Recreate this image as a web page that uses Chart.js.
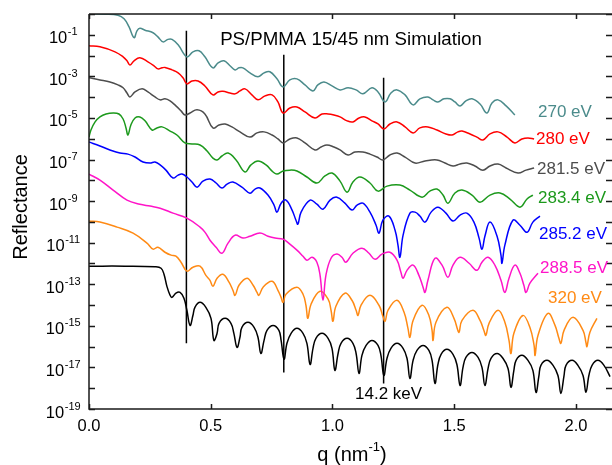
<!DOCTYPE html>
<html>
<head>
<meta charset="utf-8">
<script src="https://cdn.jsdelivr.net/npm/chart.js@4/dist/chart.umd.min.js"></script>
<style>
  body { margin: 0; background: #fff; }
  #chart { display: block; }
</style>
</head>
<body>
<canvas id="chart" width="612" height="465"></canvas>
<script>
// each curve: [q (nm^-1), log10 reflectance]
const r270 = [[0,0],[0.066,-0.01],[0.119,-0.06],[0.144,-0.23],[0.164,-0.61],[0.185,-1.14],[0.197,-0.81],[0.209,-0.69],[0.230,-0.78],[0.263,-0.90],[0.283,-1.10],[0.304,-1.34],[0.324,-1.22],[0.341,-1.22],[0.366,-1.48],[0.402,-2.06],[0.427,-1.82],[0.452,-1.77],[0.476,-2.06],[0.509,-2.59],[0.530,-2.35],[0.554,-2.25],[0.579,-2.49],[0.600,-2.69],[0.616,-2.59],[0.632,-2.59],[0.661,-2.83],[0.694,-3.02],[0.719,-2.83],[0.743,-2.78],[0.772,-3.12],[0.797,-3.51],[0.825,-3.17],[0.854,-3.12],[0.887,-3.41],[0.920,-3.70],[0.940,-3.41],[0.965,-3.27],[0.998,-3.46],[1.031,-3.65],[1.064,-3.55],[1.097,-3.65],[1.125,-3.84],[1.162,-3.55],[1.187,-3.75],[1.216,-4.23],[1.240,-3.80],[1.265,-3.65],[1.298,-3.89],[1.331,-4.37],[1.359,-4.08],[1.392,-3.99],[1.413,-4.13],[1.433,-4.23],[1.458,-4.08],[1.483,-4.08],[1.503,-4.23],[1.524,-4.42],[1.548,-4.18],[1.573,-4.08],[1.606,-4.33],[1.634,-4.76],[1.655,-4.28],[1.680,-4.13],[1.713,-4.42],[1.749,-4.86]];

const r280 = [[0,-1.53],[0.045,-1.58],[0.107,-1.82],[0.140,-2.06],[0.156,-2.25],[0.168,-2.45],[0.185,-2.25],[0.209,-2.11],[0.242,-2.30],[0.267,-2.49],[0.283,-2.64],[0.300,-2.59],[0.312,-2.57],[0.341,-2.69],[0.366,-2.83],[0.386,-3.07],[0.402,-3.36],[0.423,-3.22],[0.448,-3.22],[0.476,-3.46],[0.509,-3.89],[0.530,-3.75],[0.550,-3.72],[0.579,-3.80],[0.600,-3.84],[0.620,-3.70],[0.641,-3.60],[0.669,-3.89],[0.694,-4.13],[0.723,-3.94],[0.752,-3.89],[0.776,-4.23],[0.797,-4.76],[0.825,-4.52],[0.854,-4.47],[0.887,-4.71],[0.928,-5.00],[0.957,-4.81],[0.982,-4.81],[1.006,-4.86],[1.031,-4.95],[1.060,-5.14],[1.084,-5.19],[1.109,-5.00],[1.133,-4.95],[1.162,-5.14],[1.187,-5.29],[1.211,-5.53],[1.236,-5.29],[1.265,-5.19],[1.298,-5.43],[1.331,-5.72],[1.359,-5.48],[1.392,-5.43],[1.429,-5.58],[1.466,-5.77],[1.491,-5.82],[1.515,-5.67],[1.532,-5.63],[1.565,-5.77],[1.593,-5.92],[1.618,-6.06],[1.647,-5.77],[1.680,-5.67],[1.717,-5.92],[1.749,-6.20],[1.778,-6.01],[1.803,-5.96],[1.828,-6.01]];

const r281 = [[0,-3.07],[0.045,-3.17],[0.086,-3.27],[0.119,-3.41],[0.140,-3.55],[0.156,-3.80],[0.168,-3.99],[0.189,-3.75],[0.218,-3.60],[0.242,-3.75],[0.271,-3.99],[0.292,-4.13],[0.312,-4.08],[0.333,-4.18],[0.357,-4.42],[0.378,-4.66],[0.394,-4.86],[0.415,-4.76],[0.444,-4.61],[0.476,-4.81],[0.509,-5.48],[0.534,-5.34],[0.559,-5.29],[0.587,-5.43],[0.620,-5.67],[0.661,-5.92],[0.690,-5.72],[0.719,-5.67],[0.752,-5.82],[0.776,-6.01],[0.797,-6.20],[0.825,-6.01],[0.854,-5.96],[0.887,-6.20],[0.928,-6.54],[0.953,-6.40],[0.977,-6.30],[1.006,-6.40],[1.031,-6.54],[1.064,-6.78],[1.092,-6.64],[1.125,-6.64],[1.154,-6.74],[1.183,-6.88],[1.207,-7.02],[1.236,-6.78],[1.265,-6.69],[1.298,-6.88],[1.339,-7.17],[1.380,-7.07],[1.429,-7.02],[1.462,-7.17],[1.495,-7.31],[1.524,-7.22],[1.552,-7.17],[1.585,-7.31],[1.618,-7.51],[1.647,-7.31],[1.680,-7.22],[1.713,-7.41],[1.762,-7.65],[1.795,-7.51],[1.828,-7.41]];

const r283 = [[0,-5.92],[0.008,-5.58],[0.025,-5.19],[0.045,-4.95],[0.070,-4.81],[0.099,-4.76],[0.123,-4.81],[0.140,-5.05],[0.152,-5.48],[0.160,-5.82],[0.172,-5.34],[0.189,-5.00],[0.209,-4.95],[0.230,-5.14],[0.259,-5.58],[0.279,-5.48],[0.300,-5.43],[0.333,-5.63],[0.361,-5.82],[0.394,-6.20],[0.423,-6.25],[0.456,-6.30],[0.485,-6.59],[0.509,-6.93],[0.526,-7.02],[0.546,-6.83],[0.571,-6.69],[0.604,-7.02],[0.641,-7.60],[0.665,-7.26],[0.694,-7.07],[0.727,-7.26],[0.756,-7.60],[0.772,-7.70],[0.797,-7.55],[0.825,-7.51],[0.854,-7.55],[0.895,-7.84],[0.936,-8.13],[0.969,-7.79],[0.998,-7.65],[1.031,-8.04],[1.060,-8.57],[1.084,-8.08],[1.113,-7.84],[1.154,-8.13],[1.187,-8.52],[1.224,-8.28],[1.277,-8.23],[1.318,-8.47],[1.368,-8.81],[1.400,-8.52],[1.429,-8.42],[1.454,-8.71],[1.474,-9.10],[1.503,-8.61],[1.532,-8.47],[1.573,-8.71],[1.606,-9.05],[1.647,-8.71],[1.688,-8.61],[1.729,-8.90],[1.770,-9.29],[1.799,-8.90],[1.823,-8.71]];

const r285 = [[0,-6.16],[0.045,-6.35],[0.086,-6.54],[0.127,-6.69],[0.160,-6.74],[0.189,-6.88],[0.222,-7.12],[0.251,-7.17],[0.271,-7.12],[0.292,-7.26],[0.316,-7.51],[0.345,-7.89],[0.366,-7.75],[0.382,-7.70],[0.402,-7.84],[0.423,-8.08],[0.444,-8.33],[0.468,-8.04],[0.497,-7.94],[0.522,-8.13],[0.546,-8.37],[0.567,-8.18],[0.591,-8.08],[0.628,-8.33],[0.661,-8.62],[0.682,-8.42],[0.702,-8.37],[0.735,-8.71],[0.760,-9.19],[0.772,-9.53],[0.789,-9.10],[0.809,-8.95],[0.834,-9.43],[0.850,-9.92],[0.858,-10.11],[0.871,-9.53],[0.908,-8.95],[0.936,-9.15],[0.961,-9.39],[0.990,-8.95],[1.018,-8.81],[1.051,-9.10],[1.080,-9.43],[1.101,-9.19],[1.125,-9.10],[1.154,-9.53],[1.179,-10.16],[1.191,-10.54],[1.207,-9.92],[1.232,-9.72],[1.257,-10.40],[1.269,-11.12],[1.277,-11.70],[1.290,-10.64],[1.318,-9.58],[1.339,-9.53],[1.359,-9.72],[1.380,-10.01],[1.405,-9.53],[1.433,-9.29],[1.466,-9.58],[1.495,-9.96],[1.524,-9.67],[1.552,-9.58],[1.581,-10.01],[1.602,-10.78],[1.614,-11.31],[1.626,-10.69],[1.647,-10.01],[1.676,-10.69],[1.692,-11.60],[1.696,-11.99],[1.708,-11.12],[1.741,-9.92],[1.770,-10.16],[1.799,-10.50],[1.823,-10.01],[1.852,-9.72]];

const r288 = [[0,-7.70],[0.045,-7.99],[0.099,-8.47],[0.156,-8.95],[0.209,-9.15],[0.251,-9.24],[0.292,-9.34],[0.345,-9.58],[0.402,-9.82],[0.456,-10.25],[0.476,-10.49],[0.497,-10.88],[0.522,-11.22],[0.546,-11.51],[0.571,-11.02],[0.600,-10.64],[0.632,-10.78],[0.661,-10.69],[0.702,-10.54],[0.735,-10.69],[0.764,-10.78],[0.797,-10.83],[0.825,-11.07],[0.854,-11.36],[0.879,-11.65],[0.895,-11.84],[0.916,-11.70],[0.936,-11.94],[0.949,-12.57],[0.961,-13.77],[0.973,-12.57],[0.994,-11.75],[1.018,-11.55],[1.039,-11.70],[1.055,-11.94],[1.084,-11.51],[1.121,-11.27],[1.150,-11.51],[1.175,-11.80],[1.203,-11.55],[1.236,-11.46],[1.265,-11.84],[1.281,-12.42],[1.290,-12.71],[1.306,-12.33],[1.331,-12.08],[1.355,-12.57],[1.372,-13.14],[1.380,-13.39],[1.392,-12.81],[1.421,-11.75],[1.450,-12.08],[1.474,-12.66],[1.495,-12.08],[1.524,-11.70],[1.561,-11.99],[1.593,-12.33],[1.614,-11.94],[1.639,-11.70],[1.667,-12.08],[1.692,-12.81],[1.708,-13.39],[1.725,-12.71],[1.749,-12.08],[1.770,-12.47],[1.786,-13.05],[1.795,-13.39],[1.811,-12.95],[1.844,-12.47]];

const r320 = [[0,-9.96],[0.045,-10.01],[0.115,-10.25],[0.181,-10.54],[0.238,-11.02],[0.263,-11.31],[0.283,-11.22],[0.312,-11.46],[0.337,-11.60],[0.357,-11.65],[0.378,-11.94],[0.402,-12.37],[0.427,-12.18],[0.456,-12.13],[0.480,-12.57],[0.497,-12.81],[0.509,-13.10],[0.526,-12.71],[0.550,-12.52],[0.575,-12.90],[0.591,-13.29],[0.600,-13.53],[0.616,-13.05],[0.649,-12.71],[0.674,-13.05],[0.690,-13.39],[0.698,-13.53],[0.715,-13.14],[0.752,-12.86],[0.776,-13.29],[0.789,-13.63],[0.797,-13.87],[0.809,-13.48],[0.854,-13.14],[0.879,-13.48],[0.891,-14.01],[0.899,-14.64],[0.912,-13.96],[0.949,-13.34],[0.982,-13.72],[0.994,-14.25],[1.002,-14.78],[1.014,-14.06],[1.051,-13.43],[1.080,-13.77],[1.097,-14.25],[1.105,-14.50],[1.117,-14.01],[1.154,-13.53],[1.191,-14.01],[1.207,-14.54],[1.216,-14.78],[1.228,-14.25],[1.265,-13.77],[1.294,-14.35],[1.310,-15.12],[1.318,-15.55],[1.331,-14.74],[1.368,-14.01],[1.396,-14.50],[1.409,-15.22],[1.413,-15.70],[1.425,-14.83],[1.470,-14.11],[1.499,-14.64],[1.515,-15.22],[1.520,-15.31],[1.532,-14.74],[1.577,-14.25],[1.606,-14.74],[1.622,-15.22],[1.630,-15.46],[1.643,-14.88],[1.680,-14.25],[1.708,-14.83],[1.725,-15.70],[1.733,-16.33],[1.745,-15.36],[1.782,-14.50],[1.811,-15.08],[1.828,-15.94],[1.832,-16.42],[1.844,-15.46],[1.885,-14.40],[1.914,-14.98],[1.930,-15.60],[1.938,-15.84],[1.951,-15.22],[1.988,-14.59],[2.029,-15.22],[2.041,-15.80],[2.045,-16.00],[2.057,-15.32],[2.086,-14.64]];

const r14keV = [[0,-12.13],[0.148,-12.13],[0.271,-12.16],[0.296,-12.23],[0.308,-12.52],[0.320,-13.10],[0.333,-13.53],[0.341,-13.63],[0.357,-13.43],[0.374,-13.39],[0.390,-13.67],[0.402,-14.25],[0.415,-14.98],[0.427,-14.49],[0.435,-14.11],[0.456,-13.87],[0.480,-14.11],[0.501,-14.64],[0.513,-15.70],[0.526,-15.36],[0.534,-14.88],[0.559,-14.64],[0.583,-14.88],[0.595,-15.36],[0.608,-16.04],[0.620,-15.55],[0.628,-15.07],[0.653,-14.83],[0.678,-15.07],[0.694,-15.55],[0.706,-16.33],[0.719,-15.70],[0.731,-15.22],[0.756,-14.98],[0.780,-15.22],[0.789,-15.70],[0.801,-16.61],[0.813,-15.84],[0.830,-15.36],[0.854,-15.12],[0.879,-15.36],[0.895,-15.84],[0.908,-16.86],[0.920,-16.08],[0.932,-15.60],[0.957,-15.36],[0.982,-15.60],[0.998,-16.08],[1.010,-17.14],[1.023,-16.33],[1.035,-15.84],[1.060,-15.60],[1.084,-15.84],[1.097,-16.33],[1.109,-17.29],[1.121,-16.42],[1.138,-15.94],[1.162,-15.70],[1.187,-15.94],[1.199,-16.42],[1.211,-17.39],[1.224,-16.56],[1.240,-16.08],[1.265,-15.84],[1.290,-16.08],[1.306,-16.56],[1.318,-17.53],[1.331,-16.66],[1.347,-16.18],[1.372,-15.94],[1.396,-16.18],[1.409,-16.66],[1.421,-17.77],[1.433,-16.86],[1.446,-16.37],[1.470,-16.13],[1.495,-16.37],[1.511,-16.86],[1.524,-17.87],[1.536,-17.00],[1.548,-16.52],[1.573,-16.28],[1.598,-16.52],[1.614,-17.00],[1.626,-17.87],[1.639,-17.05],[1.651,-16.56],[1.676,-16.33],[1.700,-16.56],[1.721,-17.05],[1.733,-17.96],[1.745,-17.14],[1.754,-16.66],[1.778,-16.42],[1.803,-16.66],[1.823,-17.14],[1.836,-18.20],[1.848,-17.39],[1.856,-16.90],[1.881,-16.66],[1.906,-16.90],[1.926,-17.39],[1.938,-18.25],[1.951,-17.39],[1.959,-16.90],[1.984,-16.66],[2.008,-16.90],[2.029,-17.39],[2.041,-18.20],[2.053,-17.39],[2.066,-16.90],[2.090,-16.66],[2.115,-16.90],[2.140,-17.44]];

const curves = [r270, r280, r281, r283, r285, r288, r320, r14keV];
const curveNames = ["270 eV", "280 eV", "281.5 eV", "283.4 eV", "285.2 eV", "288.5 eV", "320 eV", "14.2 keV"];
const curveColors = ["#4b8b8b", "#ff0000", "#4d4d4d", "#1c991c", "#0000ff", "#ff14c8", "#ff8a14", "#000000"];

// vertical guide lines: q position, top and bottom (log10)
const guideQ = [0.40, 0.80, 1.21];
const guideTop = [-0.81, -1.96, -3.07];
const guideBottom = [-15.84, -17.24, -17.77];

const xTicks = [0, 0.5, 1.0, 1.5, 2.0];
const xTickLabels = ["0.0", "0.5", "1.0", "1.5", "2.0"];
const yTickExps = [0,-1,-2,-3,-4,-5,-6,-7,-8,-9,-10,-11,-12,-13,-14,-15,-16,-17,-18,-19];
const yLabelExps = [-1,-3,-5,-7,-9,-11,-13,-15,-17,-19];

// where the curve names sit (pixels, left / middle)
const namePos = [[538,112],[536,139],[537,169],[538,198],[539,234],[540,268],[548,298],[355,394]];

const FONT = '"Liberation Sans", Arial, Helvetica, sans-serif';

const datasets = curves.map((c, i) => ({
    label: curveNames[i],
    data: c.map(p => ({ x: p[0], y: Math.pow(10, p[1]) })),
    borderColor: curveColors[i],
    borderWidth: 1.5,
    pointRadius: 0,
    fill: false,
    tension: 0.4
}));

guideQ.forEach((q, i) => {
    datasets.push({
        label: 'guide' + i,
        data: [{ x: q, y: Math.pow(10, guideTop[i]) }, { x: q, y: Math.pow(10, guideBottom[i]) }],
        borderColor: '#000',
        borderWidth: 1.5,
        pointRadius: 0,
        tension: 0
    });
});

// frame, inward ticks, superscript labels and texts
const decorations = {
    id: 'decorations',
    afterDraw(chart) {
        const { ctx, chartArea: a, scales: { x, y } } = chart;
        ctx.save();
        ctx.strokeStyle = '#1a1a1a';
        ctx.lineWidth = 1.5;
        ctx.beginPath();
        ctx.moveTo(a.left, a.top); ctx.lineTo(a.right, a.top);
        ctx.moveTo(a.left, a.top); ctx.lineTo(a.left, a.bottom); ctx.lineTo(a.right, a.bottom);
        // y ticks, both sides
        yTickExps.forEach(e => {
            const py = Math.round(y.getPixelForValue(Math.pow(10, e))) + 0.5;
            ctx.moveTo(a.left, py); ctx.lineTo(a.left + 6, py);
            ctx.moveTo(a.right, py); ctx.lineTo(a.right - 6, py);
        });
        xTicks.forEach(v => {
            const px = Math.round(x.getPixelForValue(v)) + 0.5;
            ctx.moveTo(px, a.bottom); ctx.lineTo(px, a.bottom - 5);
            ctx.moveTo(px, a.top); ctx.lineTo(px, a.top + 5);
        });
        ctx.stroke();

        ctx.fillStyle = '#000';
        ctx.textBaseline = 'middle';
        // x tick labels
        ctx.font = '16.5px ' + FONT;
        ctx.textAlign = 'center';
        xTicks.forEach((v, i) => ctx.fillText(xTickLabels[i], x.getPixelForValue(v), a.bottom + 17));

        // y tick labels as 10 with raised exponent
        ctx.textAlign = 'left';
        yLabelExps.forEach(e => {
            const py = y.getPixelForValue(Math.pow(10, e));
            const sup = '-' + (-e);
            ctx.font = '16.5px ' + FONT;
            const wb = ctx.measureText('10').width;
            ctx.font = '11px ' + FONT;
            const ws = ctx.measureText(sup).width;
            const x0 = 63 - (wb + ws) / 2;
            ctx.font = '16.5px ' + FONT;
            ctx.fillText('10', x0, py + 4);
            ctx.font = '11px ' + FONT;
            ctx.fillText(sup, x0 + wb + 0.5, py - 2.5);
        });

        // axis titles
        ctx.save();
        ctx.translate(21, 207);
        ctx.rotate(-Math.PI / 2);
        ctx.textAlign = 'center';
        ctx.font = '20px ' + FONT;
        ctx.fillText('Reflectance', 0, 0);
        ctx.restore();

        ctx.font = '20px ' + FONT;
        const w1 = ctx.measureText('q (nm').width;
        const w3 = ctx.measureText(')').width;
        ctx.font = '13px ' + FONT;
        const w2 = ctx.measureText('-1').width;
        const tx = 352 - (w1 + w2 + w3) / 2;
        ctx.font = '20px ' + FONT;
        ctx.fillText('q (nm', tx, 455);
        ctx.font = '13px ' + FONT;
        ctx.fillText('-1', tx + w1, 447);
        ctx.font = '20px ' + FONT;
        ctx.fillText(')', tx + w1 + w2, 455);

        // title
        ctx.textAlign = 'center';
        ctx.font = '18.7px ' + FONT;
        ctx.fillText('PS/PMMA 15/45 nm Simulation', 351, 40);

        // curve names
        ctx.textAlign = 'left';
        ctx.font = '17px ' + FONT;
        curveNames.forEach((n, i) => {
            ctx.fillStyle = curveColors[i];
            ctx.fillText(n, namePos[i][0], namePos[i][1]);
        });
        ctx.restore();
    }
};

new Chart(document.getElementById('chart'), {
    type: 'line',
    data: { datasets },
    options: {
        responsive: false,
        animation: false,
        devicePixelRatio: 1,
        layout: { padding: { left: 89, top: 14, right: 0, bottom: 56 } },
        plugins: { legend: { display: false }, tooltip: { enabled: false } },
        scales: {
            x: { type: 'linear', min: 0, max: 2.148, display: false },
            y: { type: 'logarithmic', min: 1e-19, max: 1, display: false }
        }
    },
    plugins: [decorations]
});
</script>
</body>
</html>
